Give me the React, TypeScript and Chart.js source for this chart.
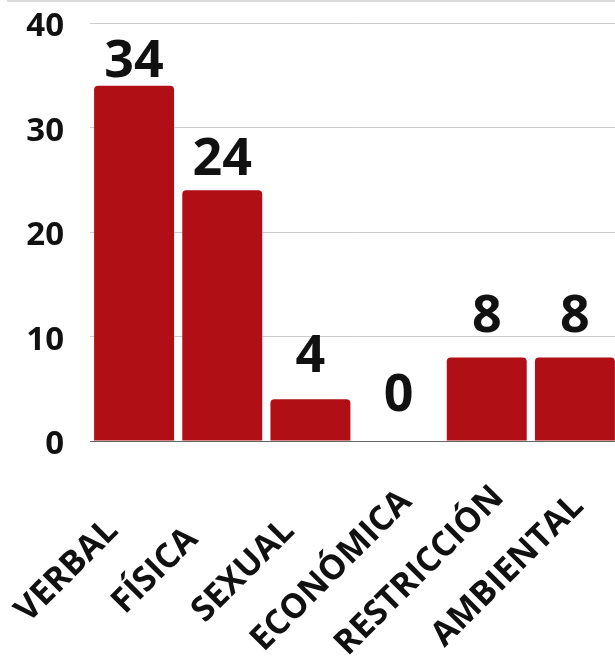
import React, { useEffect, useRef } from "react";
import { Chart, registerables } from "chart.js";

Chart.register(...registerables);

const CATEGORIES = ["VERBAL", "FÍSICA", "SEXUAL", "ECONÓMICA", "RESTRICCIÓN", "AMBIENTAL"];
const VALUES = [34, 24, 4, 0, 8, 8];
const Y_MIN = 0;
const Y_MAX = 40;
const Y_STEP = 10;

const BAR_COLOR = "#b00f16";
const FONT = '"Open Sans", "Noto Sans", sans-serif';

const labelsPlugin = {
  id: "customLabels",
  afterDraw(chart: any) {
    const { ctx, chartArea, scales } = chart;
    const xs = scales.x;
    const ys = scales.y;
    ctx.save();
    // top band
    ctx.fillStyle = "#dcdcdc";
    ctx.fillRect(7, 0, chart.width - 7, 2);

    // value labels
    const zero = ys.getPixelForValue(0);
    ctx.fillStyle = "#111";
    ctx.font = `bold 52px ${FONT}`;
    ctx.textAlign = "center";
    ctx.textBaseline = "alphabetic";
    const meta = chart.getDatasetMeta(0);
    VALUES.forEach((v, i) => {
      const bar = meta.data[i];
      const top = ys.getPixelForValue(v);
      const h = zero - top;
      const y = zero - 30 - 0.94 * h;
      ctx.fillText(String(v), bar.x, y);
    });

    // category labels
    ctx.font = `bold 34px ${FONT}`;
    ctx.textAlign = "center";
    ctx.textBaseline = "middle";
    CATEGORIES.forEach((c, i) => {
      const x = xs.getPixelForValue(i) - 67;
      const y = chartArea.bottom + 130;
      ctx.save();
      ctx.translate(x, y);
      ctx.rotate(-Math.PI / 4);
      ctx.fillText(c, 0, 0);
      ctx.restore();
    });
    ctx.restore();
  },
};

export default function App() {
  const ref = useRef<HTMLCanvasElement>(null);
  useEffect(() => {
    document.body.style.margin = "0";
    document.body.style.overflow = "hidden";
    const chart = new Chart(ref.current!, {
      type: "bar",
      data: {
        labels: CATEGORIES,
        datasets: [
          {
            data: VALUES,
            backgroundColor: BAR_COLOR,
            borderRadius: { topLeft: 4, topRight: 4, bottomLeft: 0, bottomRight: 0 },
            borderSkipped: false,
            barPercentage: 0.907,
            categoryPercentage: 1,
          },
        ],
      },
      options: {
        responsive: false,
        animation: false,
        layout: { padding: { top: 23, right: 0, bottom: 0, left: 0 } },
        plugins: { legend: { display: false }, tooltip: { enabled: false } },
        scales: {
          x: {
            ticks: { display: false },
            grid: { display: false, drawTicks: false },
            border: { display: true, color: "#666", width: 1 },
            afterFit: (s: any) => {
              s.height = 220;
              s.paddingLeft = 0;
              s.paddingRight = 0;
            },
          },
          y: {
            min: Y_MIN,
            max: Y_MAX,
            ticks: {
              stepSize: Y_STEP,
              padding: 26,
              labelOffset: 4,
              color: "#111",
              font: { family: FONT, size: 33, weight: "bold" },
            },
            grid: { color: "#cccccc", drawTicks: false },
            border: { display: false },
            afterFit: (s: any) => {
              s.width = 90;
              s.paddingTop = 0;
              s.paddingBottom = 0;
            },
          },
        },
      },
      plugins: [labelsPlugin],
    });
    return () => chart.destroy();
  }, []);
  return (
    <div style={{ position: "relative", width: 615, height: 661, overflow: "hidden" }}>
      <canvas ref={ref} width={619} height={661} style={{ display: "block", width: 619, height: 661 }} />
    </div>
  );
}
